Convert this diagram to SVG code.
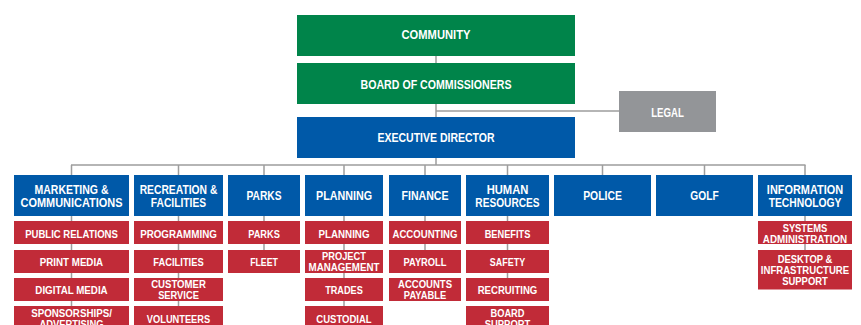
<svg xmlns="http://www.w3.org/2000/svg" width="861" height="325" viewBox="0 0 861 325">
<style>
.g{fill:#00844A}.b{fill:#0059A8}.r{fill:#C12B38}.l{fill:#939598}
text{font-family:"Liberation Sans",Arial,sans-serif;font-weight:bold;fill:#fff;text-anchor:middle}
.tg{font-size:12px}.tb{font-size:12.5px}.tr{font-size:11.5px}
.c{stroke:#9d9d9d;stroke-width:1.5;fill:none}
</style>
<rect width="861" height="325" fill="#fff"/>
<g id="connectors" class="c">
<path d="M436 56V165M436 111H619M71 165H805.5"/>
<path d="M71.5 165V306M178.5 165V306M264 165V250M344 165V306M425 165V250M507.5 165V278M602.5 165V175M704.5 165V175M805 165V250"/>
</g>
<g id="community"><rect class="g" x="297" y="15" width="278" height="41"/><text class="tg" x="436" y="39.3" textLength="69" lengthAdjust="spacingAndGlyphs">COMMUNITY</text></g>
<g id="board"><rect class="g" x="297" y="63" width="278" height="41"/><text class="tg" x="436" y="88.7" textLength="151" lengthAdjust="spacingAndGlyphs">BOARD OF COMMISSIONERS</text></g>
<g id="legal"><rect class="l" x="619" y="91" width="97" height="41"/><text class="tg" x="667.5" y="116.7" textLength="32.7" lengthAdjust="spacingAndGlyphs">LEGAL</text></g>
<g id="exec"><rect class="b" x="297" y="117" width="278" height="41"/><text class="tg" x="436" y="142.3" textLength="117" lengthAdjust="spacingAndGlyphs">EXECUTIVE DIRECTOR</text></g>

<g id="marketing"><rect class="b" x="14" y="175" width="115" height="41"/><text class="tb" x="71.5" y="194" textLength="74" lengthAdjust="spacingAndGlyphs">MARKETING &amp;</text><text class="tb" x="71.5" y="206.7" textLength="102" lengthAdjust="spacingAndGlyphs">COMMUNICATIONS</text></g>
<g id="public-relations"><rect class="r" x="14" y="221" width="115" height="23"/><text class="tr" x="71.5" y="237.7" textLength="92.7" lengthAdjust="spacingAndGlyphs">PUBLIC RELATIONS</text></g>
<g id="print-media"><rect class="r" x="14" y="250" width="115" height="23"/><text class="tr" x="71.5" y="266" textLength="63.3" lengthAdjust="spacingAndGlyphs">PRINT MEDIA</text></g>
<g id="digital-media"><rect class="r" x="14" y="278" width="115" height="23"/><text class="tr" x="71.5" y="294" textLength="72.3" lengthAdjust="spacingAndGlyphs">DIGITAL MEDIA</text></g>
<g id="sponsorships"><rect class="r" x="14" y="306" width="115" height="23"/><text class="tr" x="71.5" y="316.7" textLength="80.7" lengthAdjust="spacingAndGlyphs">SPONSORSHIPS/</text><text class="tr" x="71.5" y="327.5" textLength="64" lengthAdjust="spacingAndGlyphs">ADVERTISING</text></g>

<g id="recreation"><rect class="b" x="134" y="175" width="89" height="41"/><text class="tb" x="178.5" y="194" textLength="77.7" lengthAdjust="spacingAndGlyphs">RECREATION &amp;</text><text class="tb" x="178.5" y="206.7" textLength="55.3" lengthAdjust="spacingAndGlyphs">FACILITIES</text></g>
<g id="programming"><rect class="r" x="134" y="221" width="89" height="23"/><text class="tr" x="178.5" y="237.7" textLength="76.7" lengthAdjust="spacingAndGlyphs">PROGRAMMING</text></g>
<g id="facilities"><rect class="r" x="134" y="250" width="89" height="23"/><text class="tr" x="178.5" y="266" textLength="50.3" lengthAdjust="spacingAndGlyphs">FACILITIES</text></g>
<g id="customer-service"><rect class="r" x="134" y="278" width="89" height="23"/><text class="tr" x="178.5" y="288.3" textLength="54.7" lengthAdjust="spacingAndGlyphs">CUSTOMER</text><text class="tr" x="178.5" y="299" textLength="40.7" lengthAdjust="spacingAndGlyphs">SERVICE</text></g>
<g id="volunteers"><rect class="r" x="134" y="306" width="89" height="23"/><text class="tr" x="178.5" y="322.7" textLength="63.3" lengthAdjust="spacingAndGlyphs">VOLUNTEERS</text></g>

<g id="parks"><rect class="b" x="228" y="175" width="72" height="41"/><text class="tb" x="264" y="200" textLength="35" lengthAdjust="spacingAndGlyphs">PARKS</text></g>
<g id="parks-sub"><rect class="r" x="228" y="221" width="72" height="23"/><text class="tr" x="264" y="237.7" textLength="31.7" lengthAdjust="spacingAndGlyphs">PARKS</text></g>
<g id="fleet"><rect class="r" x="228" y="250" width="72" height="23"/><text class="tr" x="264" y="266" textLength="27.7" lengthAdjust="spacingAndGlyphs">FLEET</text></g>

<g id="planning"><rect class="b" x="305" y="175" width="78" height="41"/><text class="tb" x="344" y="200" textLength="56" lengthAdjust="spacingAndGlyphs">PLANNING</text></g>
<g id="planning-sub"><rect class="r" x="305" y="221" width="78" height="23"/><text class="tr" x="344" y="237.7" textLength="51" lengthAdjust="spacingAndGlyphs">PLANNING</text></g>
<g id="project-management"><rect class="r" x="305" y="250" width="78" height="23"/><text class="tr" x="344" y="260" textLength="44" lengthAdjust="spacingAndGlyphs">PROJECT</text><text class="tr" x="344" y="270.7" textLength="71" lengthAdjust="spacingAndGlyphs">MANAGEMENT</text></g>
<g id="trades"><rect class="r" x="305" y="278" width="78" height="23"/><text class="tr" x="344" y="294" textLength="37.7" lengthAdjust="spacingAndGlyphs">TRADES</text></g>
<g id="custodial"><rect class="r" x="305" y="306" width="78" height="23"/><text class="tr" x="344" y="322.7" textLength="55.3" lengthAdjust="spacingAndGlyphs">CUSTODIAL</text></g>

<g id="finance"><rect class="b" x="389" y="175" width="72" height="41"/><text class="tb" x="425" y="200" textLength="47" lengthAdjust="spacingAndGlyphs">FINANCE</text></g>
<g id="accounting"><rect class="r" x="389" y="221" width="72" height="23"/><text class="tr" x="425" y="237.7" textLength="65" lengthAdjust="spacingAndGlyphs">ACCOUNTING</text></g>
<g id="payroll"><rect class="r" x="389" y="250" width="72" height="23"/><text class="tr" x="425" y="266" textLength="43" lengthAdjust="spacingAndGlyphs">PAYROLL</text></g>
<g id="accounts-payable"><rect class="r" x="389" y="278" width="72" height="23"/><text class="tr" x="425" y="288.3" textLength="54" lengthAdjust="spacingAndGlyphs">ACCOUNTS</text><text class="tr" x="425" y="299" textLength="42.3" lengthAdjust="spacingAndGlyphs">PAYABLE</text></g>

<g id="hr"><rect class="b" x="466" y="175" width="83" height="41"/><text class="tb" x="507.5" y="194" textLength="41.7" lengthAdjust="spacingAndGlyphs">HUMAN</text><text class="tb" x="507.5" y="206.7" textLength="64.3" lengthAdjust="spacingAndGlyphs">RESOURCES</text></g>
<g id="benefits"><rect class="r" x="466" y="221" width="83" height="23"/><text class="tr" x="507.5" y="237.7" textLength="45.7" lengthAdjust="spacingAndGlyphs">BENEFITS</text></g>
<g id="safety"><rect class="r" x="466" y="250" width="83" height="23"/><text class="tr" x="507.5" y="266" textLength="35.3" lengthAdjust="spacingAndGlyphs">SAFETY</text></g>
<g id="recruiting"><rect class="r" x="466" y="278" width="83" height="23"/><text class="tr" x="507.5" y="294" textLength="59.7" lengthAdjust="spacingAndGlyphs">RECRUITING</text></g>
<g id="board-support"><rect class="r" x="466" y="306" width="83" height="23"/><text class="tr" x="507.5" y="316.7" textLength="34" lengthAdjust="spacingAndGlyphs">BOARD</text><text class="tr" x="507.5" y="327.5" textLength="45.7" lengthAdjust="spacingAndGlyphs">SUPPORT</text></g>

<g id="police"><rect class="b" x="554" y="175" width="97" height="41"/><text class="tb" x="602.5" y="200" textLength="38.7" lengthAdjust="spacingAndGlyphs">POLICE</text></g>
<g id="golf"><rect class="b" x="656" y="175" width="97" height="41"/><text class="tb" x="704.5" y="200" textLength="28.3" lengthAdjust="spacingAndGlyphs">GOLF</text></g>

<g id="it"><rect class="b" x="758" y="175" width="94" height="41"/><text class="tb" x="805" y="194" textLength="76.3" lengthAdjust="spacingAndGlyphs">INFORMATION</text><text class="tb" x="805" y="206.7" textLength="72.7" lengthAdjust="spacingAndGlyphs">TECHNOLOGY</text></g>
<g id="systems-admin"><rect class="r" x="758" y="221" width="94" height="23"/><text class="tr" x="805" y="232" textLength="44.7" lengthAdjust="spacingAndGlyphs">SYSTEMS</text><text class="tr" x="805" y="243" textLength="84.3" lengthAdjust="spacingAndGlyphs">ADMINISTRATION</text></g>
<g id="desktop"><rect class="r" x="758" y="250" width="94" height="39.5"/><text class="tr" x="805" y="263" textLength="54.7" lengthAdjust="spacingAndGlyphs">DESKTOP &amp;</text><text class="tr" x="805" y="274" textLength="88.3" lengthAdjust="spacingAndGlyphs">INFRASTRUCTURE</text><text class="tr" x="805" y="284.7" textLength="45.7" lengthAdjust="spacingAndGlyphs">SUPPORT</text></g>
</svg>
